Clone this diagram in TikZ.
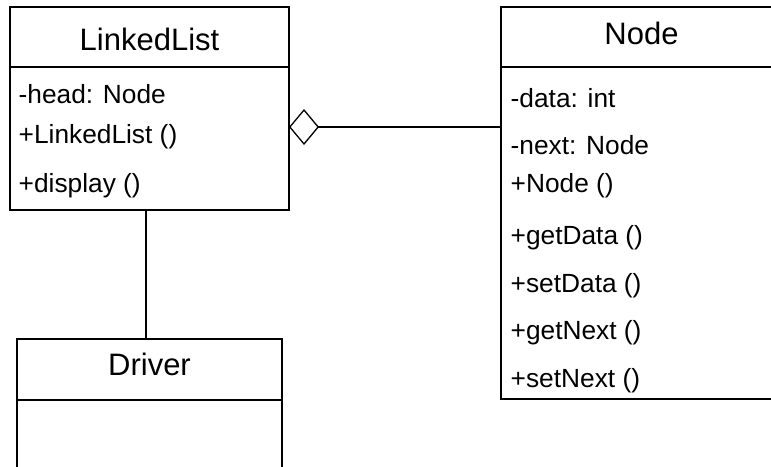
\documentclass[tikz,border=0pt]{standalone}
\usepackage{fontspec}
\setmainfont{Liberation Sans}
\usetikzlibrary{arrows.meta, positioning}
\tikzset{%
  % Specifications for style of class boxes:
    base/.style = {rectangle, draw=black, line width=1.3pt, inner sep=0pt, outer sep=0pt},
    classHead/.style = {base, minimum height=60pt},
    classBody/.style = {base},
  % Specifications for style of texts:
    className/.style = {inner sep=0pt, anchor=base, font=\fontsize{31}{36}\selectfont},
    member/.style = {inner sep=0pt, anchor=base west, font=\fontsize{26.3}{30}\selectfont},
    aggregation/.style = {line width=1.3pt, {Diamond[open, length=30pt, width=36pt]}-},
}

\begin{document}
\begin{tikzpicture}[x=1pt, y=-1pt]
  \clip (0,0) rectangle (771,466);

  % LinkedList class
  \node (listHead)    [classHead, minimum width=279pt, anchor=north west] at (10,7) {};
  \node (listBody)    [classBody, minimum width=279pt, minimum height=143pt, below=0pt of listHead] {};
  \node (listName)    [className] at (149.5,50) {LinkedList};
  \node (listHeadVar) [member] at (18.5,103) {-head: Node};
  \node (listCtor)    [member] at (18.5,143) {+LinkedList ()};
  \node (listDisplay) [member] at (18.5,192) {+display ()};

  % Node class
  \node (nodeHead)    [classHead, minimum width=281pt, anchor=north west] at (501,7) {};
  \node (nodeBody)    [classBody, minimum width=281pt, minimum height=332pt, below=0pt of nodeHead] {};
  \node (nodeName)    [className] at (641.5,44) {Node};
  \node (nodeData)    [member] at (510.5,107) {-data: int};
  \node (nodeNext)    [member] at (510.5,154) {-next: Node};
  \node (nodeCtor)    [member] at (510.5,192) {+Node ()};
  \node (getData)     [member] at (510.5,244) {+getData ()};
  \node (setData)     [member] at (510.5,292) {+setData ()};
  \node (getNext)     [member] at (510.5,339) {+getNext ()};
  \node (setNext)     [member] at (510.5,387) {+setNext ()};

  % Driver class
  \node (driverHead)  [classHead, minimum width=265pt, minimum height=61pt, anchor=north west] at (17,339) {};
  \node (driverBody)  [classBody, minimum width=265pt, minimum height=90pt, below=0pt of driverHead] {};
  \node (driverName)  [className] at (149.5,375) {Driver};

  % Specification of lines between classes
  \draw[aggregation] ([yshift=11.5pt]listBody.east) -- ([yshift=11.5pt]listBody.east -| nodeBody.west);
  \draw[line width=1.3pt] ([xshift=-3.5pt]listBody.south) -- ([xshift=-3.5pt]driverHead.north);
\end{tikzpicture}
\end{document}
